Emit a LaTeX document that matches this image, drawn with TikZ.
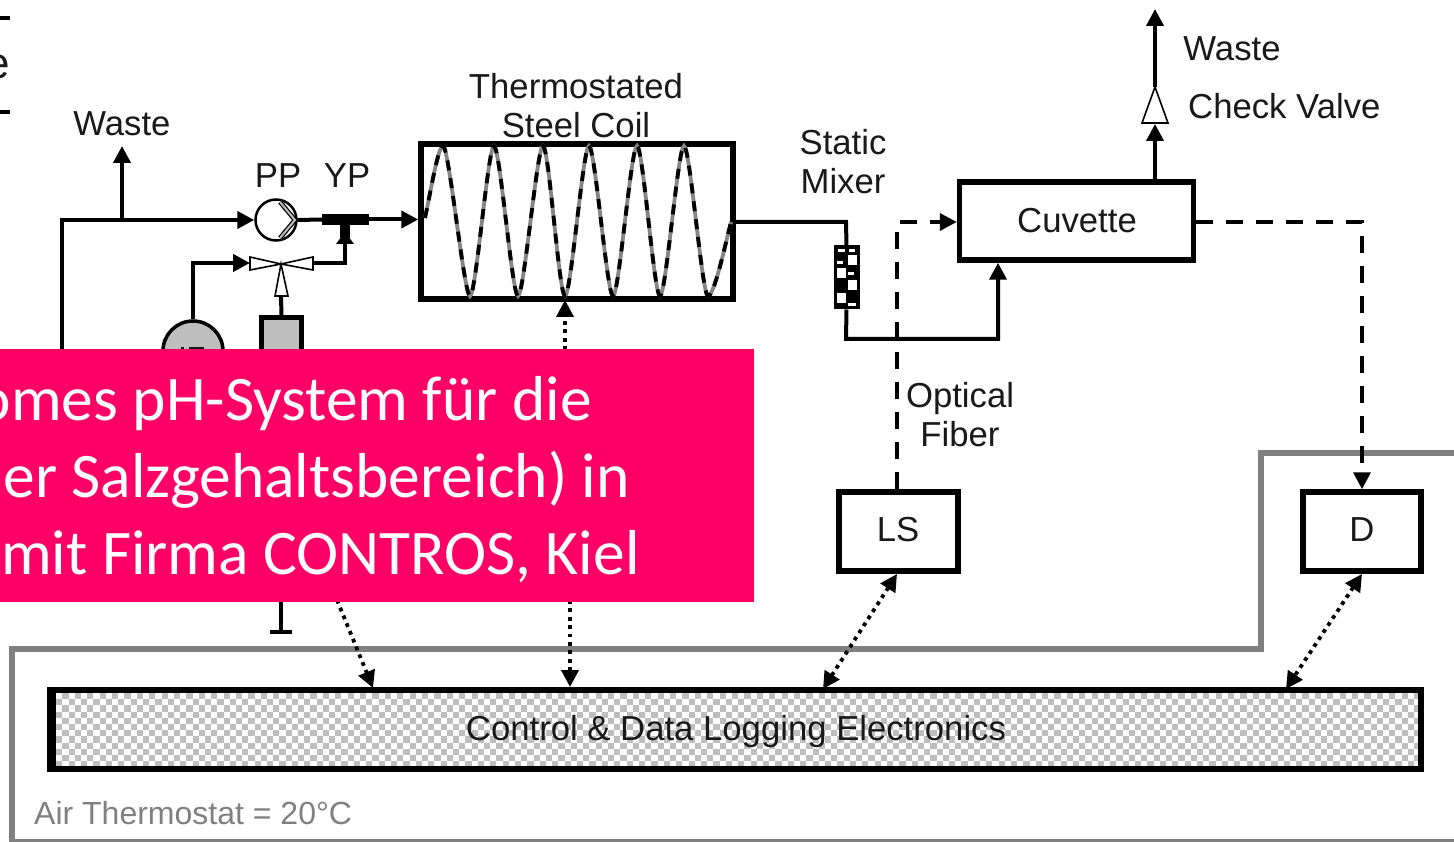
\documentclass[tikz,border=0pt]{standalone}
\usepackage{fontspec}
\setmainfont{Liberation Sans}
\newfontfamily\calibri{Carlito}
\usetikzlibrary{arrows.meta,calc}
\definecolor{pinkbar}{HTML}{FF0066}
\definecolor{thermo}{HTML}{808080}
\definecolor{fillgray}{HTML}{BEBEBE}
\tikzset{
  x=1pt,y=-1pt,
  lbl/.style={inner sep=0pt,font=\fontsize{34.7}{39}\selectfont,align=center,text=black!90},
  thick box/.style={draw=black,line width=5.5pt,fill=white,inner sep=0pt,minimum width=#1},
  flow/.style={draw=black,line width=4pt,line join=miter},
  head/.style={-{Triangle[length=17pt,width=17pt]}},
  twohead/.style={{Triangle[length=17pt,width=17pt]}-{Triangle[length=17pt,width=17pt]}},
  dash flow/.style={draw=black,line width=3.6pt,dash pattern=on 17pt off 13pt},
  dots/.style={draw=black,line width=3.8pt,dash pattern=on 3.8pt off 4.6pt},
  open/.style={draw=black,line width=1.6pt,fill=white},
  pinktext/.style={anchor=base east,inner sep=0pt,text=white,font=\calibri\fontsize{63.5}{66}\selectfont},
  coilpath/.style={line width=3.8pt},
}
\newcommand{\coilcurve}{(425,218) .. controls (430,195) and (438,146) .. (443,146)
  .. controls (449,146) and (464,296) .. (470,296)
  .. controls (476,296) and (488,146) .. (494,146)
  .. controls (500,146) and (512,296) .. (518,296)
  .. controls (524,296) and (537,146) .. (543,146)
  .. controls (549,146) and (559,296) .. (565,296)
  .. controls (571,296) and (583,146) .. (589,146)
  .. controls (595,146) and (607,296) .. (613,296)
  .. controls (619,296) and (631,146) .. (637,146)
  .. controls (643,146) and (654,296) .. (660,296)
  .. controls (666,296) and (678,146) .. (684,146)
  .. controls (690,146) and (702,296) .. (708,296)
  .. controls (714,296) and (724,250) .. (731,222)}
\begin{document}
\begin{tikzpicture}
\useasboundingbox (0,0) rectangle (1454,842);
\fill[white] (0,0) rectangle (1454,842);
% top-left fragments
\draw[black,line width=4pt] (0,18) -- (10,18) (0,112) -- (10,112);
\node[lbl,anchor=base east,font=\fontsize{44}{50}\selectfont] (frag) at (10,79) {e};
% air thermostat outline
\draw[thermo,line width=6pt,line join=miter] (1454,453) -- (1261,453) -- (1261,649) -- (12,649) -- (12,842);
\draw[thermo,line width=3pt] (12,840) -- (1454,840);
\node[lbl,anchor=base west,text=thermo,font=\fontsize{32}{36}\selectfont] (air) at (34,824) {Air Thermostat = 20°C};
% electronics
\begin{scope}
\fill[white] (50,690) rectangle (1421,769);
\clip (50,690) rectangle (1421,769);
\foreach \r in {0,1,...,13}{
  \pgfmathsetmacro{\yy}{693+6.2*\r}
  \pgfmathsetmacro{\ph}{mod(\r,2)*6.2}
  \draw[fillgray,line width=6.2pt,dash pattern=on 6.2pt off 6.2pt,dash phase=\ph pt] (50,\yy+3.1) -- (1421,\yy+3.1);
}
\end{scope}
\node[draw=black,line width=6pt,minimum width=1371pt,minimum height=79pt,inner sep=0pt] (ctrl) at (735.5,729.5) {};
\fill[black] (48,687) rectangle (56,772);
\node[lbl,anchor=base] (ctrltext) at (736,740) {Control \& Data Logging Electronics};
% coil
\node[thick box=312pt,minimum height=155pt] (coil) at (577,221.5) {};
\draw[fillgray!70!black,coilpath] \coilcurve;
\draw[black,coilpath,dash pattern=on 10pt off 8pt] \coilcurve;
\node[lbl,anchor=base] (coiltext1) at (576,99) {Thermostated};
\node[lbl,anchor=base] (coiltext2) at (576,138) {Steel Coil};
% pump & junction
\node[circle,draw=black,line width=2.5pt,fill=white,minimum size=41pt,inner sep=0pt] (pump) at (276,220) {};
\draw[black,line width=4.6pt,line join=miter] (280,202) -- (295,220) -- (280,238);
\draw[fillgray,line width=2pt,line join=miter] (280,202) -- (295,220) -- (280,238);
\node[fill=black,minimum width=47pt,minimum height=11pt,inner sep=0pt] (yp) at (345.5,219.5) {};
\coordinate (main) at (62,352);
\coordinate (mainc) at (62,220);
\coordinate (wasteTee) at (122,220);
\coordinate (wasteEnd) at (122,146);
\draw[flow,head] (main) -- (mainc) -- (pump.west);
\draw[flow,head] (wasteTee) -- (wasteEnd);
\draw[flow] (pump.east) -- (yp.west);
\draw[flow,head] (yp.east) -- (coil.west |- yp.east);
\node[lbl,anchor=base] (pp) at (278,188) {PP};
\node[lbl,anchor=base] (yptext) at (347,188) {YP};
\node[lbl,anchor=base] (w1) at (122,136) {Waste};
% valve
\coordinate (vc) at (281,264);
\draw[open] (vc) -- (250,257) -- (250,270) -- cycle;
\draw[open] (vc) -- (313,257) -- (313,270) -- cycle;
\draw[open] (vc) -- (275,296) -- (288,296) -- cycle;
\coordinate (vr) at (313,263);
\coordinate (vrc) at (345,263);
\coordinate (vl) at (250,263);
\coordinate (ipc) at (193,263);
\draw[flow] (vr) -- (vrc) -- (yp.south -| vrc);
\fill[black] (340,224) rectangle (350,238);
\fill[black] (336,244) -- (345,232) -- (354,244) -- cycle;
% ip and gray box
\node[circle,draw=black,line width=3.5pt,fill=fillgray,minimum size=60pt,inner sep=0pt] (ip) at (193,351) {};
\fill[black!90] (181,347) rectangle (184,349);
\fill[black!90] (189,347) rectangle (204,349);
\draw[flow,head] (ip.north) -- (ipc) -- (vl);
\node[draw=black,line width=5pt,fill=fillgray,minimum width=40pt,minimum height=80pt,inner sep=0pt] (reag) at (281.5,358) {};
\coordinate (vb) at (281,296);
\draw[flow] (reag.north) -- (vb);
% mixer
\node[draw=black,line width=2pt,fill=black,minimum width=24pt,minimum height=62pt,inner sep=0pt] (mix) at (846.5,277.5) {};
\foreach \xa/\ya/\xb/\yb in {848/255/857/265, 837/268/846/278, 848/280/857/290, 837/293/846/303, 838/249/845/252, 849/249/855/252, 848/303/856/306, 837/261/843/264, 848/272/854/275}{
  \fill[white] (\xa,\ya) rectangle (\xb,\yb);
}
% cuvette
\node[thick box=234pt,minimum height=78pt] (cuv) at (1076.5,221) {};
\node[lbl,anchor=base] (cuvtext) at (1077,233) {Cuvette};
\coordinate (c1) at (846,222);
\coordinate (c2) at (846,339);
\coordinate (c3) at (998,339);
\draw[flow] (coil.east |- c1) -- (c1) -- (mix.north);
\draw[flow,head] (mix.south) -- (c2) -- (c3) -- (c3 |- cuv.south);
\node[lbl,anchor=base] (smt) at (843,155) {Static};
\node[lbl,anchor=base] (smt2) at (843,194) {Mixer};
% check valve
\coordinate (cvt) at (1155,87);
\coordinate (cvb) at (1155,124);
\coordinate (wtop) at (1155,9);
\draw[flow,head] (cuv.north -| cvb) -- (cvb);
\draw[open] (cvt) -- (1142,123) -- (1168,123) -- cycle;
\draw[flow,head] (cvt) -- (wtop);
\node[lbl,anchor=base] (w2) at (1232,61) {Waste};
\node[lbl,anchor=base west] (cv) at (1188,119) {Check Valve};
% LS, D
\node[thick box=119pt,minimum height=79pt] (ls) at (898.5,531.5) {};
\node[lbl,anchor=base] (lstext) at (898,541) {LS};
\node[thick box=118pt,minimum height=79pt] (d) at (1362,531.5) {};
\node[lbl,anchor=base] (dtext) at (1362,541) {D};
\coordinate (f1) at (897,222);
\coordinate (r1) at (1362,222);
\draw[dash flow,head] (ls.north -| f1) -- (f1) -- (cuv.west |- f1);
\draw[dash flow,head] (cuv.east |- r1) -- (r1) -- (d.north);
\node[lbl,anchor=base] (of1) at (960,407) {Optical};
\node[lbl,anchor=base] (of2) at (960,446) {Fiber};
% dotted control
\coordinate (sp) at (565,350);
\coordinate (gnd) at (281,632);
\coordinate (gndt) at (281,600);
\draw[dots,head] (sp) -- (565,300);
\coordinate (d1) at (570,600);
\coordinate (d1e) at (570,687);
\draw[dots,head] (d1) -- (d1e);
\coordinate (d2) at (337,600);
\coordinate (d2e) at (373,688);
\draw[dots,head] (d2) -- (d2e);
\coordinate (d3) at (897,574);
\coordinate (d3e) at (823,689);
\draw[dots,twohead] (d3) -- (d3e);
\coordinate (d4) at (1362,574);
\coordinate (d4e) at (1286,689);
\draw[dots,twohead] (d4) -- (d4e);
\draw[black,line width=3.5pt] (gndt) -- (gnd);
\draw[black,line width=3.5pt] (270,632) -- (292,632);
% pink overlay
\fill[pinkbar] (0,349) rectangle (754,602);
\node[pinktext] (p1) at (592,420) {omes pH-System für die};
\node[pinktext] (p2) at (630,497) {er Salzgehaltsbereich) in};
\node[pinktext] (p3) at (640,574) {mit Firma CONTROS, Kiel};
\end{tikzpicture}
\end{document}
